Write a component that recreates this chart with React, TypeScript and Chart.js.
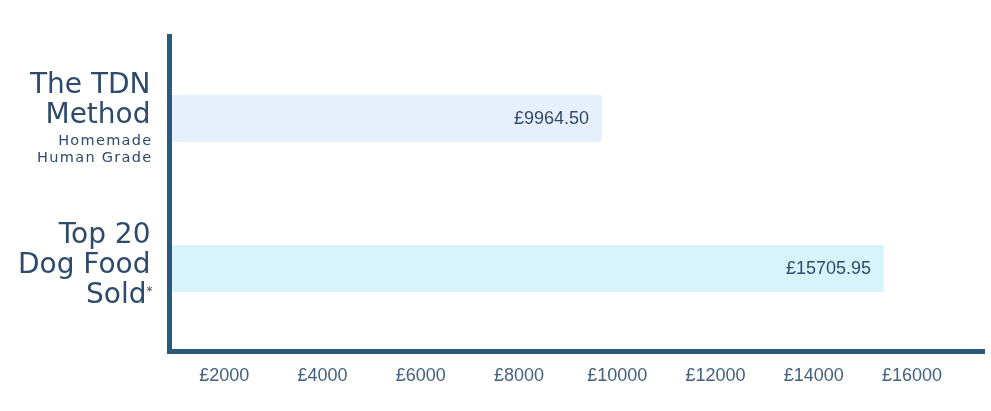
import React, { useEffect, useRef } from "react";
import { Chart, registerables } from "chart.js";

Chart.register(...registerables);

const categories = ["The TDN Method", "Top 20 Dog Food Sold*"];
const labelMainLines = [
  ["The TDN", "Method"],
  ["Top 20", "Dog Food", "Sold*"],
];
const labelSubLines = [["Homemade", "Human Grade"], []];
const values = [9964.5, 15705.95];
const barColors = ["#e8effc", "#d7f4fd"];
const xTickValues = [2000, 4000, 6000, 8000, 10000, 12000, 14000, 16000];
const xMin = 1180;
const xMax = 17770;

const TEXT = "#2f4b6b";
const TICK = "#44607f";
const AXIS = "#2a5a7c";

const decorPlugin = {
  id: "decor",
  afterDatasetsDraw(chart: any) {
    const { ctx, chartArea } = chart;
    const yScale = chart.scales.y;
    const meta = chart.getDatasetMeta(0);
    ctx.save();

    // value labels inside bars
    ctx.font = "18px 'Liberation Sans', Arial, sans-serif";
    ctx.fillStyle = TEXT;
    ctx.textAlign = "right";
    ctx.textBaseline = "middle";
    meta.data.forEach((bar: any, i: number) => {
      ctx.fillText("£" + values[i].toFixed(2), bar.x - 12.5, bar.y + 1);
    });

    // axis lines
    ctx.strokeStyle = AXIS;
    ctx.lineWidth = 5;
    ctx.lineCap = "butt";
    ctx.beginPath();
    ctx.moveTo(chartArea.left - 0.5, chartArea.top - 9.5);
    ctx.lineTo(chartArea.left - 0.5, chartArea.bottom + 10.5);
    ctx.stroke();
    ctx.beginPath();
    ctx.moveTo(chartArea.left - 3, chartArea.bottom + 8);
    ctx.lineTo(chartArea.right, chartArea.bottom + 8);
    ctx.stroke();

    // category labels
    const rightX = chartArea.left - 19.5;
    categories.forEach((_, i) => {
      const cy = yScale.getPixelForValue(i);
      let baseline = cy - 26;
      ctx.textBaseline = "alphabetic";
      ctx.fillStyle = TEXT;
      labelMainLines[i].forEach((line, j) => {
        if (j > 0) baseline += 30;
        ctx.font = "28px 'DejaVu Sans', sans-serif";
        (ctx as any).letterSpacing = "0px";
        if (line.endsWith("*")) {
          const txt = line.slice(0, -1);
          ctx.textAlign = "right";
          ctx.fillText(txt, rightX - 4, baseline);
          ctx.font = "12px 'DejaVu Sans', sans-serif";
          ctx.textAlign = "left";
          ctx.fillText("*", rightX - 4, baseline - 7.5);
        } else {
          ctx.textAlign = "right";
          ctx.fillText(line, rightX, baseline);
        }
      });
      const subs = labelSubLines[i];
      subs.forEach((line, j) => {
        baseline += j === 0 ? 22 : 17.7;
        ctx.font = "14.5px 'DejaVu Sans', sans-serif";
        (ctx as any).letterSpacing = "1.3px";
        ctx.textAlign = "right";
        ctx.fillText(line, rightX + 2, baseline);
      });
      (ctx as any).letterSpacing = "0px";
    });

    ctx.restore();
  },
};

export default function App() {
  const canvasRef = useRef<HTMLCanvasElement | null>(null);

  useEffect(() => {
    document.body.style.margin = "0";
    const canvas = canvasRef.current;
    if (!canvas) return;
    const chart = new Chart(canvas, {
      type: "bar",
      data: {
        labels: categories,
        datasets: [
          {
            data: values,
            backgroundColor: barColors,
            borderWidth: 0,
            barPercentage: 0.313,
            categoryPercentage: 1,
          },
        ],
      },
      options: {
        indexAxis: "y",
        responsive: false,
        animation: false,
        devicePixelRatio: 1,
        layout: {
          padding: { left: 170, right: 6, top: 43.5, bottom: 0 },
        },
        plugins: {
          legend: { display: false },
          tooltip: { enabled: false },
        },
        scales: {
          x: {
            type: "linear",
            min: xMin,
            max: xMax,
            afterBuildTicks: (scale: any) => {
              scale.ticks = xTickValues.map((v) => ({ value: v }));
            },
            afterFit: (scale: any) => {
              scale.height = 67.5;
            },
            grid: { display: false, drawTicks: false },
            border: { display: false },
            ticks: {
              padding: 22,
              labelOffset: 14,
              autoSkip: false,
              maxRotation: 0,
              color: TICK,
              font: { family: "'Liberation Sans', Arial, sans-serif", size: 18 },
              callback: (v: any) => "£" + v,
            },
          },
          y: {
            display: false,
          },
        },
      },
      plugins: [decorPlugin],
    } as any);
    return () => chart.destroy();
  }, []);

  return (
    <div style={{ width: 991, height: 411, background: "#ffffff" }}>
      <canvas ref={canvasRef} width={991} height={411} style={{ display: "block" }} />
    </div>
  );
}
